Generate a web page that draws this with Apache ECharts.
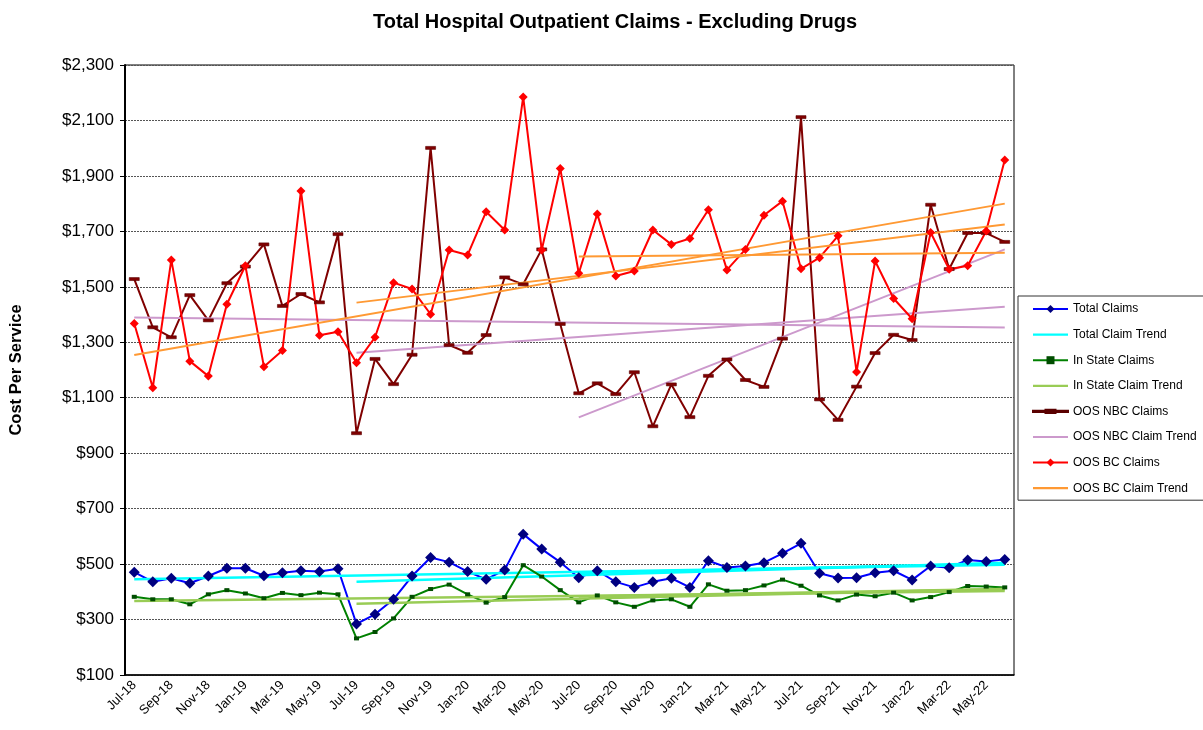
<!DOCTYPE html>
<html>
<head>
<meta charset="utf-8">
<script src="https://cdn.jsdelivr.net/npm/echarts@6/dist/echarts.min.js"></script>
<style>
html,body{margin:0;padding:0;background:#fff;}
#chart{width:1203px;height:730px;}
</style>
</head>
<body>
<div id="chart"></div>
<script>
var months = ['Jul-18','Aug-18','Sep-18','Oct-18','Nov-18','Dec-18','Jan-19','Feb-19','Mar-19','Apr-19','May-19','Jun-19',
  'Jul-19','Aug-19','Sep-19','Oct-19','Nov-19','Dec-19','Jan-20','Feb-20','Mar-20','Apr-20','May-20','Jun-20',
  'Jul-20','Aug-20','Sep-20','Oct-20','Nov-20','Dec-20','Jan-21','Feb-21','Mar-21','Apr-21','May-21','Jun-21',
  'Jul-21','Aug-21','Sep-21','Oct-21','Nov-21','Dec-21','Jan-22','Feb-22','Mar-22','Apr-22','May-22','Jun-22'];

var totalClaims = [471,436,449,431,457,485,485,458,469,476,473,483,
  284,319,373,457,524,507,473,445,479,608,554,507,
  451,476,436,416,436,449,416,512,488,493,505,539,
  575,467,450,451,469,476,443,493,487,515,509,517];

var inStateClaims = [382,373,373,355,391,406,394,377,396,388,397,391,
  232,255,304,382,410,426,391,361,381,496,455,406,
  362,387,362,346,369,373,346,427,404,406,423,444,
  422,387,369,390,384,397,369,381,399,421,419,416];

var oosNbcClaims = [1528,1354,1318,1470,1379,1513,1573,1653,1431,1474,1444,1690,
  972,1240,1149,1255,2001,1290,1262,1326,1534,1509,1635,1366,
  1116,1152,1113,1192,997,1148,1030,1179,1238,1164,1139,1313,
  2112,1094,1020,1140,1261,1327,1308,1796,1564,1694,1694,1662];

var oosBcClaims = [1368,1136,1597,1232,1178,1437,1576,1212,1270,1846,1325,1338,
  1226,1318,1515,1492,1401,1633,1615,1771,1705,2185,1633,1927,
  1549,1763,1539,1557,1705,1653,1674,1778,1561,1635,1758,1809,
  1565,1605,1684,1193,1593,1458,1385,1696,1563,1576,1701,1957];

// trend segments: start month and [start value, end value] (end month = last month)
var trendStarts = ['Jul-18','Jul-19','Jul-20'];
var totalTrend  = [[445,498],[436,505],[468,502]];
var inStateTrend = [[367,403],[357,410],[383,410]];
var oosNbcTrend = [[1389,1353],[1262,1428],[1029,1635]];
var oosBcTrend  = [[1254,1800],[1443,1725],[1609,1623]];

var yTicks = {min:100, max:2300, step:200};

var FONT = 'Arial, "Liberation Sans", sans-serif';
var LINE_ICON = 'path://M0 0H35V2.2H0Z';
var NBC_ICON = 'path://M0 3.3H35V4.7H0Z M12.5 2.3H22.5V5.7H12.5Z';

function trendSeries(name, segs, color, width) {
  var lastMonth = months[months.length - 1];
  return segs.map(function (s, k) {
    return {
      name: name, type: 'line', symbol: 'none', silent: true,
      lineStyle: {color: color, width: width},
      itemStyle: {color: color},
      data: [[trendStarts[k], s[0]], [lastMonth, s[1]]]
    };
  });
}

var series = [];
series.push({
  name: 'Total Claims', type: 'line', data: totalClaims,
  symbol: 'diamond', symbolSize: 11, showAllSymbol: true,
  lineStyle: {color: '#0000FF', width: 2},
  itemStyle: {color: '#000080'}
});
series = series.concat(trendSeries('Total Claim Trend', totalTrend, '#00FFFF', 2.5));
series.push({
  name: 'In State Claims', type: 'line', data: inStateClaims,
  symbol: 'rect', symbolSize: [5, 4], showAllSymbol: true,
  lineStyle: {color: '#008000', width: 2},
  itemStyle: {color: '#004d00'}
});
series = series.concat(trendSeries('In State Claim Trend', inStateTrend, '#99CC55', 2.5));
series.push({
  name: 'OOS NBC Claims', type: 'line', data: oosNbcClaims,
  symbol: 'rect', symbolSize: [10, 3], showAllSymbol: true,
  lineStyle: {color: '#800000', width: 2},
  itemStyle: {color: '#800000', borderColor: '#5a0000', borderWidth: 0.5}
});
series = series.concat(trendSeries('OOS NBC Claim Trend', oosNbcTrend, '#CC99CC', 2));
series.push({
  name: 'OOS BC Claims', type: 'line', data: oosBcClaims,
  symbol: 'diamond', symbolSize: 9, showAllSymbol: true,
  lineStyle: {color: '#FF0000', width: 2},
  itemStyle: {color: '#FF0000'}
});
series = series.concat(trendSeries('OOS BC Claim Trend', oosBcTrend, '#FF9933', 2));

var chart = echarts.init(document.getElementById('chart'), null, {renderer: 'canvas'});
chart.setOption({
  animation: false,
  backgroundColor: '#ffffff',
  textStyle: {fontFamily: FONT},
  title: {
    text: 'Total Hospital Outpatient Claims - Excluding Drugs',
    left: 610, top: 7, textAlign: 'center',
    textStyle: {fontFamily: FONT, fontSize: 20, fontWeight: 'bold', color: '#000'}
  },
  legend: {
    orient: 'vertical',
    left: 1018, top: 296,
    padding: [7, 40, 6, 14],
    itemWidth: 35, itemHeight: 10, itemGap: 13.6,
    borderColor: '#333', borderWidth: 1,
    textStyle: {fontFamily: FONT, fontSize: 12, color: '#000'},
    data: [
      {name: 'Total Claims'},
      {name: 'Total Claim Trend', icon: LINE_ICON},
      {name: 'In State Claims'},
      {name: 'In State Claim Trend', icon: LINE_ICON},
      {name: 'OOS NBC Claims', icon: NBC_ICON},
      {name: 'OOS NBC Claim Trend', icon: LINE_ICON},
      {name: 'OOS BC Claims'},
      {name: 'OOS BC Claim Trend', icon: LINE_ICON}
    ]
  },
  grid: {
    left: 124, right: 189, top: 65, bottom: 55,
    show: true, borderColor: '#000', borderWidth: 1, backgroundColor: '#fff'
  },
  xAxis: {
    type: 'category', data: months, boundaryGap: true,
    axisLine: {lineStyle: {color: '#000', width: 1.5}},
    axisTick: {interval: 1, length: 5, lineStyle: {color: '#000'}},
    axisLabel: {interval: 1, rotate: 45, fontSize: 13, color: '#000', fontFamily: FONT, margin: 8},
    splitLine: {show: false}
  },
  yAxis: {
    type: 'value', min: yTicks.min, max: yTicks.max, interval: yTicks.step,
    name: 'Cost Per Service', nameLocation: 'middle', nameGap: 100,
    nameTextStyle: {fontFamily: FONT, fontSize: 16.5, fontWeight: 'bold', color: '#000'},
    axisLine: {show: true, lineStyle: {color: '#000', width: 2}},
    axisTick: {show: true, length: 5, lineStyle: {color: '#000'}},
    axisLabel: {
      fontSize: 17, color: '#000', fontFamily: FONT, margin: 11,
      formatter: function (v) { return '$' + v.toLocaleString('en-US'); }
    },
    splitLine: {show: true, lineStyle: {color: '#555', type: [2, 1], width: 1}}
  },
  series: series
});
</script>
</body>
</html>
